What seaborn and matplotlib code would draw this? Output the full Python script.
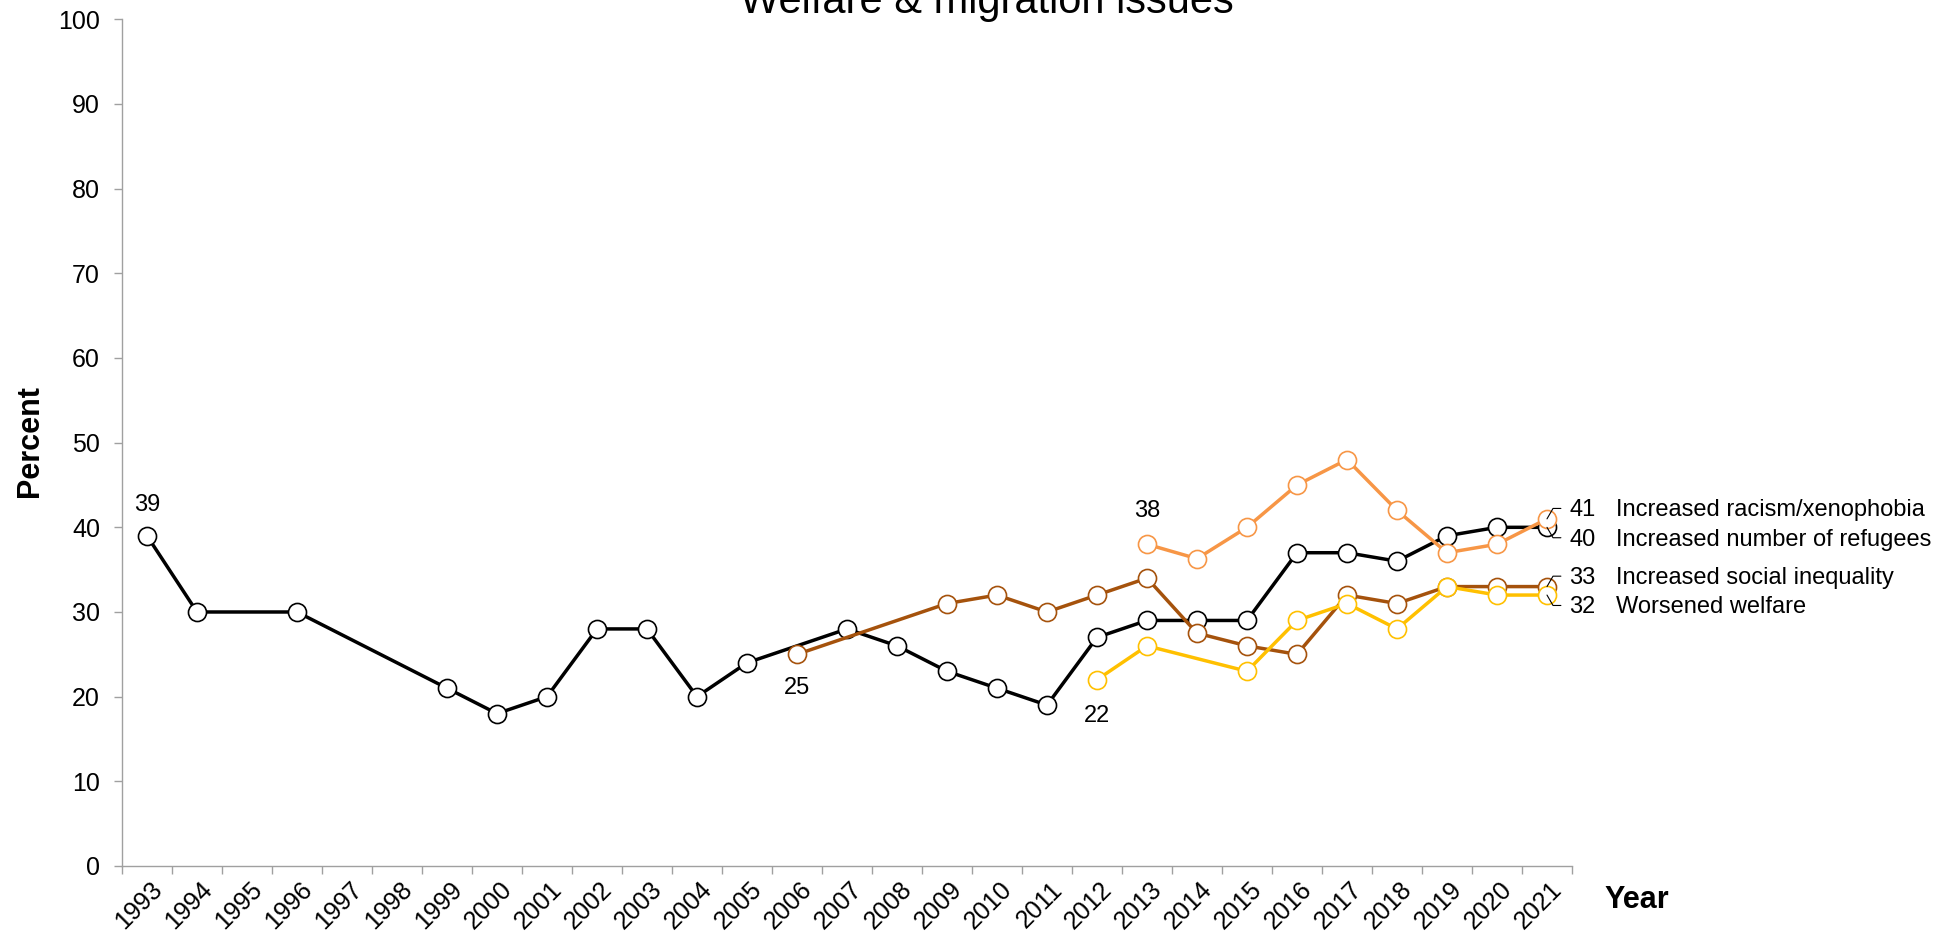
import matplotlib
matplotlib.use('Agg')
import matplotlib.pyplot as plt
from matplotlib.transforms import ScaledTranslation
from matplotlib.ticker import FixedLocator
import seaborn as sns

# Survey values (percent) per issue; missing years are simply skipped
years_all = list(range(1993, 2022))

refugee_years = [1993, 1994, 1996, 1999, 2000, 2001, 2002, 2003, 2004, 2005, 2007,
                 2008, 2009, 2010, 2011, 2012, 2013, 2014, 2015, 2016, 2017, 2018,
                 2019, 2020, 2021]
refugees = [39, 30, 30, 21, 18, 20, 28, 28, 20, 24, 28,
            26, 23, 21, 19, 27, 29, 29, 29, 37, 37, 36,
            39, 40, 40]

inequality_years = [2006, 2009, 2010, 2011, 2012, 2013, 2014, 2015, 2016, 2017,
                    2018, 2019, 2020, 2021]
inequality = [25, 31, 32, 30, 32, 34, 27.5, 26, 25, 32, 31, 33, 33, 33]

welfare_years = [2012, 2013, 2015, 2016, 2017, 2018, 2019, 2020, 2021]
welfare = [22, 26, 23, 29, 31, 28, 33, 32, 32]

racism_years = [2013, 2014, 2015, 2016, 2017, 2018, 2019, 2020, 2021]
racism = [38, 36.3, 40, 45, 48, 42, 37, 38, 41]

series_names = ['Increased racism/xenophobia', 'Increased number of refugees',
                'Increased social inequality', 'Worsened welfare']

BLACK = '#000000'
BROWN = '#A5520C'
ORANGE = '#F79646'
YELLOW = '#FFC000'
AXIS_GREY = '#A0A0A0'

sns.set_style('white')
plt.rcParams['font.family'] = ['Liberation Sans', 'DejaVu Sans']
plt.rcParams['text.color'] = 'black'
plt.rcParams['xtick.color'] = 'black'
plt.rcParams['ytick.color'] = 'black'
plt.rcParams['axes.labelcolor'] = 'black'

fig = plt.figure(figsize=(19.57, 9.42), dpi=100)
ax = fig.add_axes([0.06234, 0.08068, 0.74093, 0.89883])

# draw order: black, brown, yellow, orange (orange ends on top)
series = [
    (refugee_years, refugees, BLACK, 3),
    (inequality_years, inequality, BROWN, 4),
    (welfare_years, welfare, YELLOW, 5),
    (racism_years, racism, ORANGE, 6),
]
for xs, ys, col, z in series:
    sns.lineplot(x=xs, y=ys, ax=ax, color=col, linewidth=2.5, marker='o',
                 markersize=13, markerfacecolor='white', markeredgecolor=col,
                 markeredgewidth=1.2, zorder=z)

# axes
ax.set_xlim(years_all[0] - 0.5, years_all[-1] + 0.5)
ax.set_ylim(0, 100)
ax.set_yticks(range(0, 101, 10))
ax.set_xticks(years_all)
ax.set_xticklabels([str(y) for y in years_all], rotation=45, ha='right',
                   va='top', rotation_mode='anchor')
ax.xaxis.set_minor_locator(FixedLocator(
    [y - 0.5 for y in years_all] + [years_all[-1] + 0.5]))
ax.tick_params(axis='x', which='major', length=0, pad=8, labelsize=18)
ax.tick_params(axis='x', which='minor', length=5.8, width=1, color=AXIS_GREY,
               direction='out', bottom=True)
ax.tick_params(axis='y', which='major', length=5.8, width=1, color=AXIS_GREY,
               direction='out', left=True, labelsize=18, pad=10)
for lab in ax.get_xticklabels():
    lab.set_transform(lab.get_transform() + ScaledTranslation(0.03, 0, fig.dpi_scale_trans))

for side in ['top', 'right']:
    ax.spines[side].set_visible(False)
for side in ['left', 'bottom']:
    ax.spines[side].set_color(AXIS_GREY)
    ax.spines[side].set_linewidth(1.0)
ax.set_xlabel('')
ax.set_ylabel('')

# start labels
ax.annotate(str(refugees[0]), (refugee_years[0], refugees[0]), xytext=(0, 22),
            textcoords='offset points', ha='center', va='center', fontsize=17)
ax.annotate(str(inequality[0]), (inequality_years[0], inequality[0]), xytext=(0, -24),
            textcoords='offset points', ha='center', va='center', fontsize=17)
ax.annotate(str(welfare[0]), (welfare_years[0], welfare[0]), xytext=(0, -26),
            textcoords='offset points', ha='center', va='center', fontsize=17)
ax.annotate(str(racism[0]), (racism_years[0], racism[0]), xytext=(0, 24),
            textcoords='offset points', ha='center', va='center', fontsize=17)

# end labels with small leader lines
ends = [
    (racism_years[-1], racism[-1], series_names[0], 1, 6.5),
    (refugee_years[-1], refugees[-1], series_names[1], -1, -9.4),
    (inequality_years[-1], inequality[-1], series_names[2], 1, 6.2),
    (welfare_years[-1], welfare[-1], series_names[3], -1, -8.6),
]
for x, y, name, sgn, dy in ends:
    ax.annotate('', xy=(x, y), xytext=(10, 7.5 * sgn), textcoords='offset points',
                arrowprops=dict(arrowstyle='-', color='black', lw=0.8, shrinkA=0, shrinkB=0,
                                connectionstyle=f'angle,angleA=0,angleB={60 * sgn},rad=0'),
                zorder=8, annotation_clip=False)
    val = int(y) if float(y).is_integer() else y
    ax.annotate(str(val), (x, y), xytext=(16, dy), textcoords='offset points',
                ha='left', va='center', fontsize=17, annotation_clip=False)
    ax.annotate(name, (x, y), xytext=(50, dy), textcoords='offset points',
                ha='left', va='center', fontsize=17, annotation_clip=False)

# titles (the title sits at the very top edge, partly cut as in the source chart)
fig.text(987 / 1957, 1 - 13 / 942, 'Welfare & migration issues', ha='center',
         va='baseline', fontsize=30)
fig.text(30 / 1957, 1 - 441 / 942, 'Percent', rotation=90, ha='center', va='center',
         fontsize=22, fontweight='bold')
fig.text(1637 / 1957, 1 - 900 / 942, 'Year', ha='center', va='center',
         fontsize=22, fontweight='bold')

fig.savefig('out.png', dpi=100)
